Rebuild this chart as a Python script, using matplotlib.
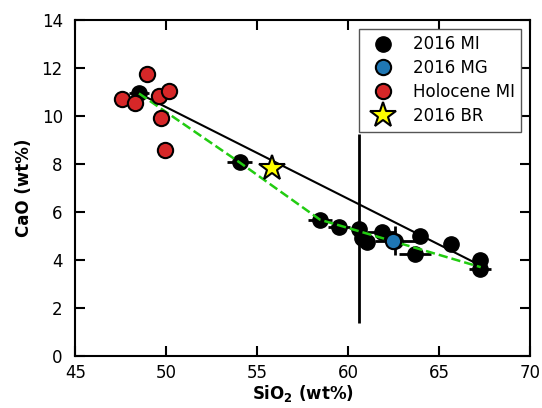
import numpy as np
import matplotlib.pyplot as plt

# 2016 melt inclusions
mi_sio2 = [48.5, 54.04, 58.46, 59.49, 60.59, 60.75, 61.05, 61.85, 62.6, 63.96, 63.69, 65.65, 67.26, 67.26]
mi_cao = [10.95, 8.07, 5.68, 5.37, 5.30, 4.92, 4.76, 5.15, 4.80, 4.99, 4.23, 4.67, 3.99, 3.62]
mi_xerr = [0.55, 0.7, 0.65, 0.6, 0.0, 0.0, 0.0, 0.8, 1.1, 0.0, 0.88, 0.0, 0.0, 0.6]
mi_yerr = [0.0, 0.0, 0.0, 0.0, 3.95, 0.0, 0.0, 0.0, 0.6, 0.0, 0.0, 0.0, 0.0, 0.25]

# 2016 matrix glass
mg_sio2 = [62.49]
mg_cao = [4.80]

# Holocene melt inclusions
hol_sio2 = [48.93, 47.59, 48.30, 49.62, 50.14, 49.70, 49.95]
hol_cao = [11.75, 10.71, 10.56, 10.83, 11.05, 9.93, 8.61]

# 2016 bulk rock
br_sio2 = [55.84]
br_cao = [7.85]

# mixing line and liquid line of descent
mix_sio2 = [48.5, 67.26]
mix_cao = [10.95, 3.78]
lld_sio2 = [48.5, 54.04, 58.46, 67.3]
lld_cao = [10.95, 8.07, 5.68, 3.7]

fig = plt.figure(figsize=(5.42, 4.08), dpi=100)
ax = fig.add_axes([0.139, 0.128, 0.8385, 0.822])

ax.errorbar(mi_sio2, mi_cao, xerr=mi_xerr, yerr=mi_yerr, fmt='none',
            ecolor='black', elinewidth=2, capsize=0, zorder=2)
ax.plot(mi_sio2, mi_cao, 'o', color='black', markersize=11, zorder=3, label='2016 MI')
ax.plot(mix_sio2, mix_cao, '-', color='black', lw=1.5, zorder=4)
ax.plot(lld_sio2, lld_cao, '--', color='#22cc11', lw=1.8, zorder=4)
ax.plot(mg_sio2, mg_cao, 'o', color='#1f77b4', mec='black', mew=1.5,
        markersize=11, zorder=5, label='2016 MG')
ax.plot(hol_sio2, hol_cao, 'o', color='#d62728', mec='black', mew=1.5,
        markersize=11, zorder=5, label='Holocene MI')
ax.plot(br_sio2, br_cao, '*', color='yellow', mec='black', mew=1.5,
        markersize=19, zorder=6, label='2016 BR')

ax.set_xlim(45, 70)
ax.set_ylim(0, 14)
ax.set_xticks(np.arange(45, 71, 5))
ax.set_yticks(np.arange(0, 15, 2))
ax.tick_params(direction='in', top=True, right=True, length=7, width=1.5,
               labelsize=12)
ax.tick_params(axis='x', pad=6)
ax.tick_params(axis='y', pad=9)
for sp in ax.spines.values():
    sp.set_linewidth(1.5)

ax.set_xlabel(r'SiO$_\mathbf{2}$ (wt%)', fontsize=12, fontweight='bold', labelpad=1)
ax.set_ylabel('CaO (wt%)', fontsize=12, fontweight='bold', labelpad=6)

leg = ax.legend(loc='upper right', fontsize=12, numpoints=1, fancybox=False,
                framealpha=1, edgecolor='#555555', borderaxespad=0.5,
                labelspacing=0.35, handletextpad=0.8)
leg.get_frame().set_linewidth(1.0)

fig.savefig('out.png', dpi=100)
